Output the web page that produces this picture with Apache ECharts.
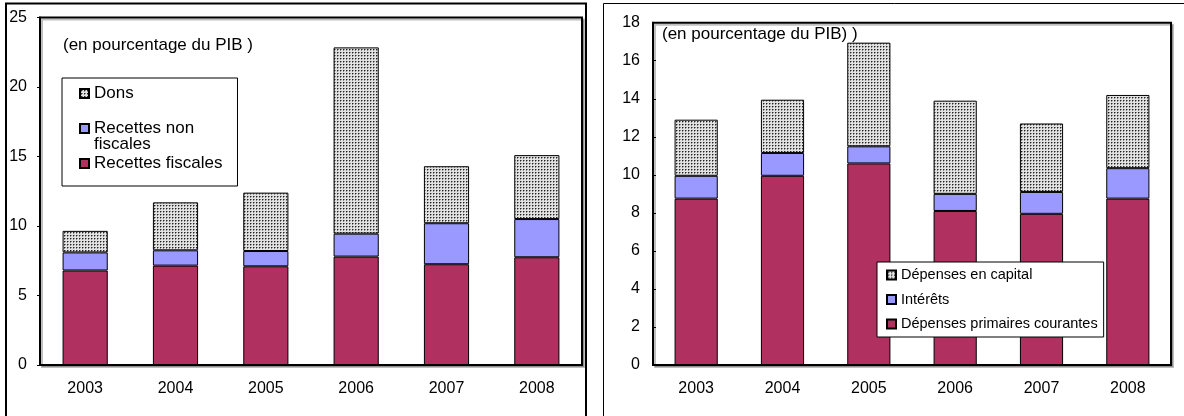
<!DOCTYPE html>
<html>
<head>
<meta charset="utf-8">
<script src="https://cdn.jsdelivr.net/npm/echarts@6/dist/echarts.min.js"></script>
<style>
  html, body { margin: 0; padding: 0; background: #fff; }
  #chart { width: 1184px; height: 416px; }
</style>
</head>
<body>
<div id="chart"></div>
<script>
// Years shown on both panels
const years = ['2003', '2004', '2005', '2006', '2007', '2008'];

// Revenue panel (percent of GDP)
const recettesFiscales = [6.8, 7.15, 7.1, 7.8, 7.25, 7.75];
const recettesNonFiscales = [1.3, 1.1, 1.1, 1.65, 2.95, 2.75];
const dons = [1.55, 3.45, 4.2, 13.4, 4.1, 4.6];

// Expenditure panel (percent of GDP)
const depensesPrimaires = [8.75, 9.95, 10.6, 8.1, 7.95, 8.75];
const interets = [1.2, 1.2, 0.9, 0.9, 1.15, 1.6];
const depensesCapital = [2.95, 2.8, 5.45, 4.9, 3.6, 3.85];

const FONT = "'Liberation Sans', Arial, sans-serif";
const RED = '#B03060';
const LILAC = '#9999FF';

// Small dotted tile used for the grants / capital spending segments
function dotTile() {
  const c = document.createElement('canvas');
  c.width = 3; c.height = 3;
  const g = c.getContext('2d');
  g.fillStyle = '#e2e2e2'; g.fillRect(0, 0, 3, 3);
  g.fillStyle = '#8a8a8a'; g.fillRect(2, 1, 1, 1); g.fillRect(1, 2, 1, 1);
  g.fillStyle = '#222222'; g.fillRect(1, 1, 1, 1);
  return c;
}
const dots = { image: dotTile(), repeat: 'repeat' };

const chart = echarts.init(document.getElementById('chart'), null, { renderer: 'canvas' });

function seg(name, data, color, idx) {
  return {
    name, type: 'bar', stack: 's' + idx, data,
    xAxisIndex: idx, yAxisIndex: idx,
    barWidth: '50%',
    itemStyle: { color, borderColor: '#000', borderWidth: 1 },
    emphasis: { disabled: true },
    animation: false
  };
}

function xAxis(idx, size) {
  return {
    type: 'category', gridIndex: idx, data: years,
    axisLine: { lineStyle: { color: '#000', width: 2 } },
    axisTick: { show: false },
    axisLabel: { color: '#000', fontFamily: FONT, fontSize: size, margin: 16 }
  };
}

function yAxis(idx, max, interval, inside, size) {
  return {
    type: 'value', gridIndex: idx, min: 0, max, interval,
    axisLine: { show: true, lineStyle: { color: '#000', width: 2 } },
    axisTick: { show: true, inside, length: 3, lineStyle: { color: '#000' } },
    splitLine: { show: false },
    axisLabel: { color: '#000', fontFamily: FONT, fontSize: size, margin: 13 }
  };
}

const option = {
  backgroundColor: '#fff',
  animation: false,
  grid: [
    { left: 40, top: 17.5, width: 542, height: 347.5, show: true,
      borderColor: '#000', borderWidth: 2, backgroundColor: '#fff',
      shadowColor: 'rgba(0,0,0,0.25)', shadowOffsetX: 2, shadowOffsetY: 2 },
    { left: 653, top: 22.7, width: 518, height: 342.3, show: true,
      borderColor: '#000', borderWidth: 2, backgroundColor: '#fff',
      shadowColor: 'rgba(0,0,0,0.25)', shadowOffsetX: 2, shadowOffsetY: 2 }
  ],
  xAxis: [xAxis(0, 16), xAxis(1, 16)],
  yAxis: [yAxis(0, 25, 5, false, 16), yAxis(1, 18, 2, true, 16)],
  legend: [
    {
      data: ['Dons', 'Recettes non fiscales', 'Recettes fiscales'],
      orient: 'vertical', left: 62, top: 78,
      padding: [7, 15, 14, 17],
      backgroundColor: '#fff', borderColor: '#000', borderWidth: 1,
      itemWidth: 9, itemHeight: 9, itemGap: 2, icon: 'rect',
      selectedMode: false,
      formatter: n => n === 'Recettes non fiscales' ? ' \nRecettes non\nfiscales' : n,
      textStyle: { color: '#000', fontFamily: FONT, fontSize: 17, lineHeight: 16 }
    },
    {
      data: ['Dépenses en capital', 'Intérêts', 'Dépenses primaires courantes'],
      orient: 'vertical', left: 877, top: 262,
      padding: [5, 6, 5, 9],
      backgroundColor: '#fff', borderColor: '#000', borderWidth: 1,
      itemWidth: 9, itemHeight: 9, itemGap: 8.5, icon: 'rect',
      selectedMode: false,
      textStyle: { color: '#000', fontFamily: FONT, fontSize: 14.5, lineHeight: 16 }
    }
  ],
  graphic: [
    { type: 'rect', shape: { x: 6, y: 3.5, width: 580, height: 430 },
      style: { fill: 'none', stroke: '#000', lineWidth: 2 }, silent: true, z: 0 },
    { type: 'rect', shape: { x: 603.5, y: 3.5, width: 600, height: 430 },
      style: { fill: 'none', stroke: '#000', lineWidth: 1 }, silent: true, z: 0 },
    { type: 'text', left: 63, top: 37,
      style: { text: '(en pourcentage du PIB )', fill: '#000', font: '17px ' + FONT }, z: 10 },
    { type: 'text', left: 662, top: 26,
      style: { text: '(en pourcentage du PIB) )', fill: '#000', font: '17px ' + FONT }, z: 10 }
  ],
  series: [
    seg('Recettes fiscales', recettesFiscales, RED, 0),
    seg('Recettes non fiscales', recettesNonFiscales, LILAC, 0),
    seg('Dons', dons, dots, 0),
    seg('Dépenses primaires courantes', depensesPrimaires, RED, 1),
    seg('Intérêts', interets, LILAC, 1),
    seg('Dépenses en capital', depensesCapital, dots, 1)
  ]
};

chart.setOption(option);
</script>
</body>
</html>
